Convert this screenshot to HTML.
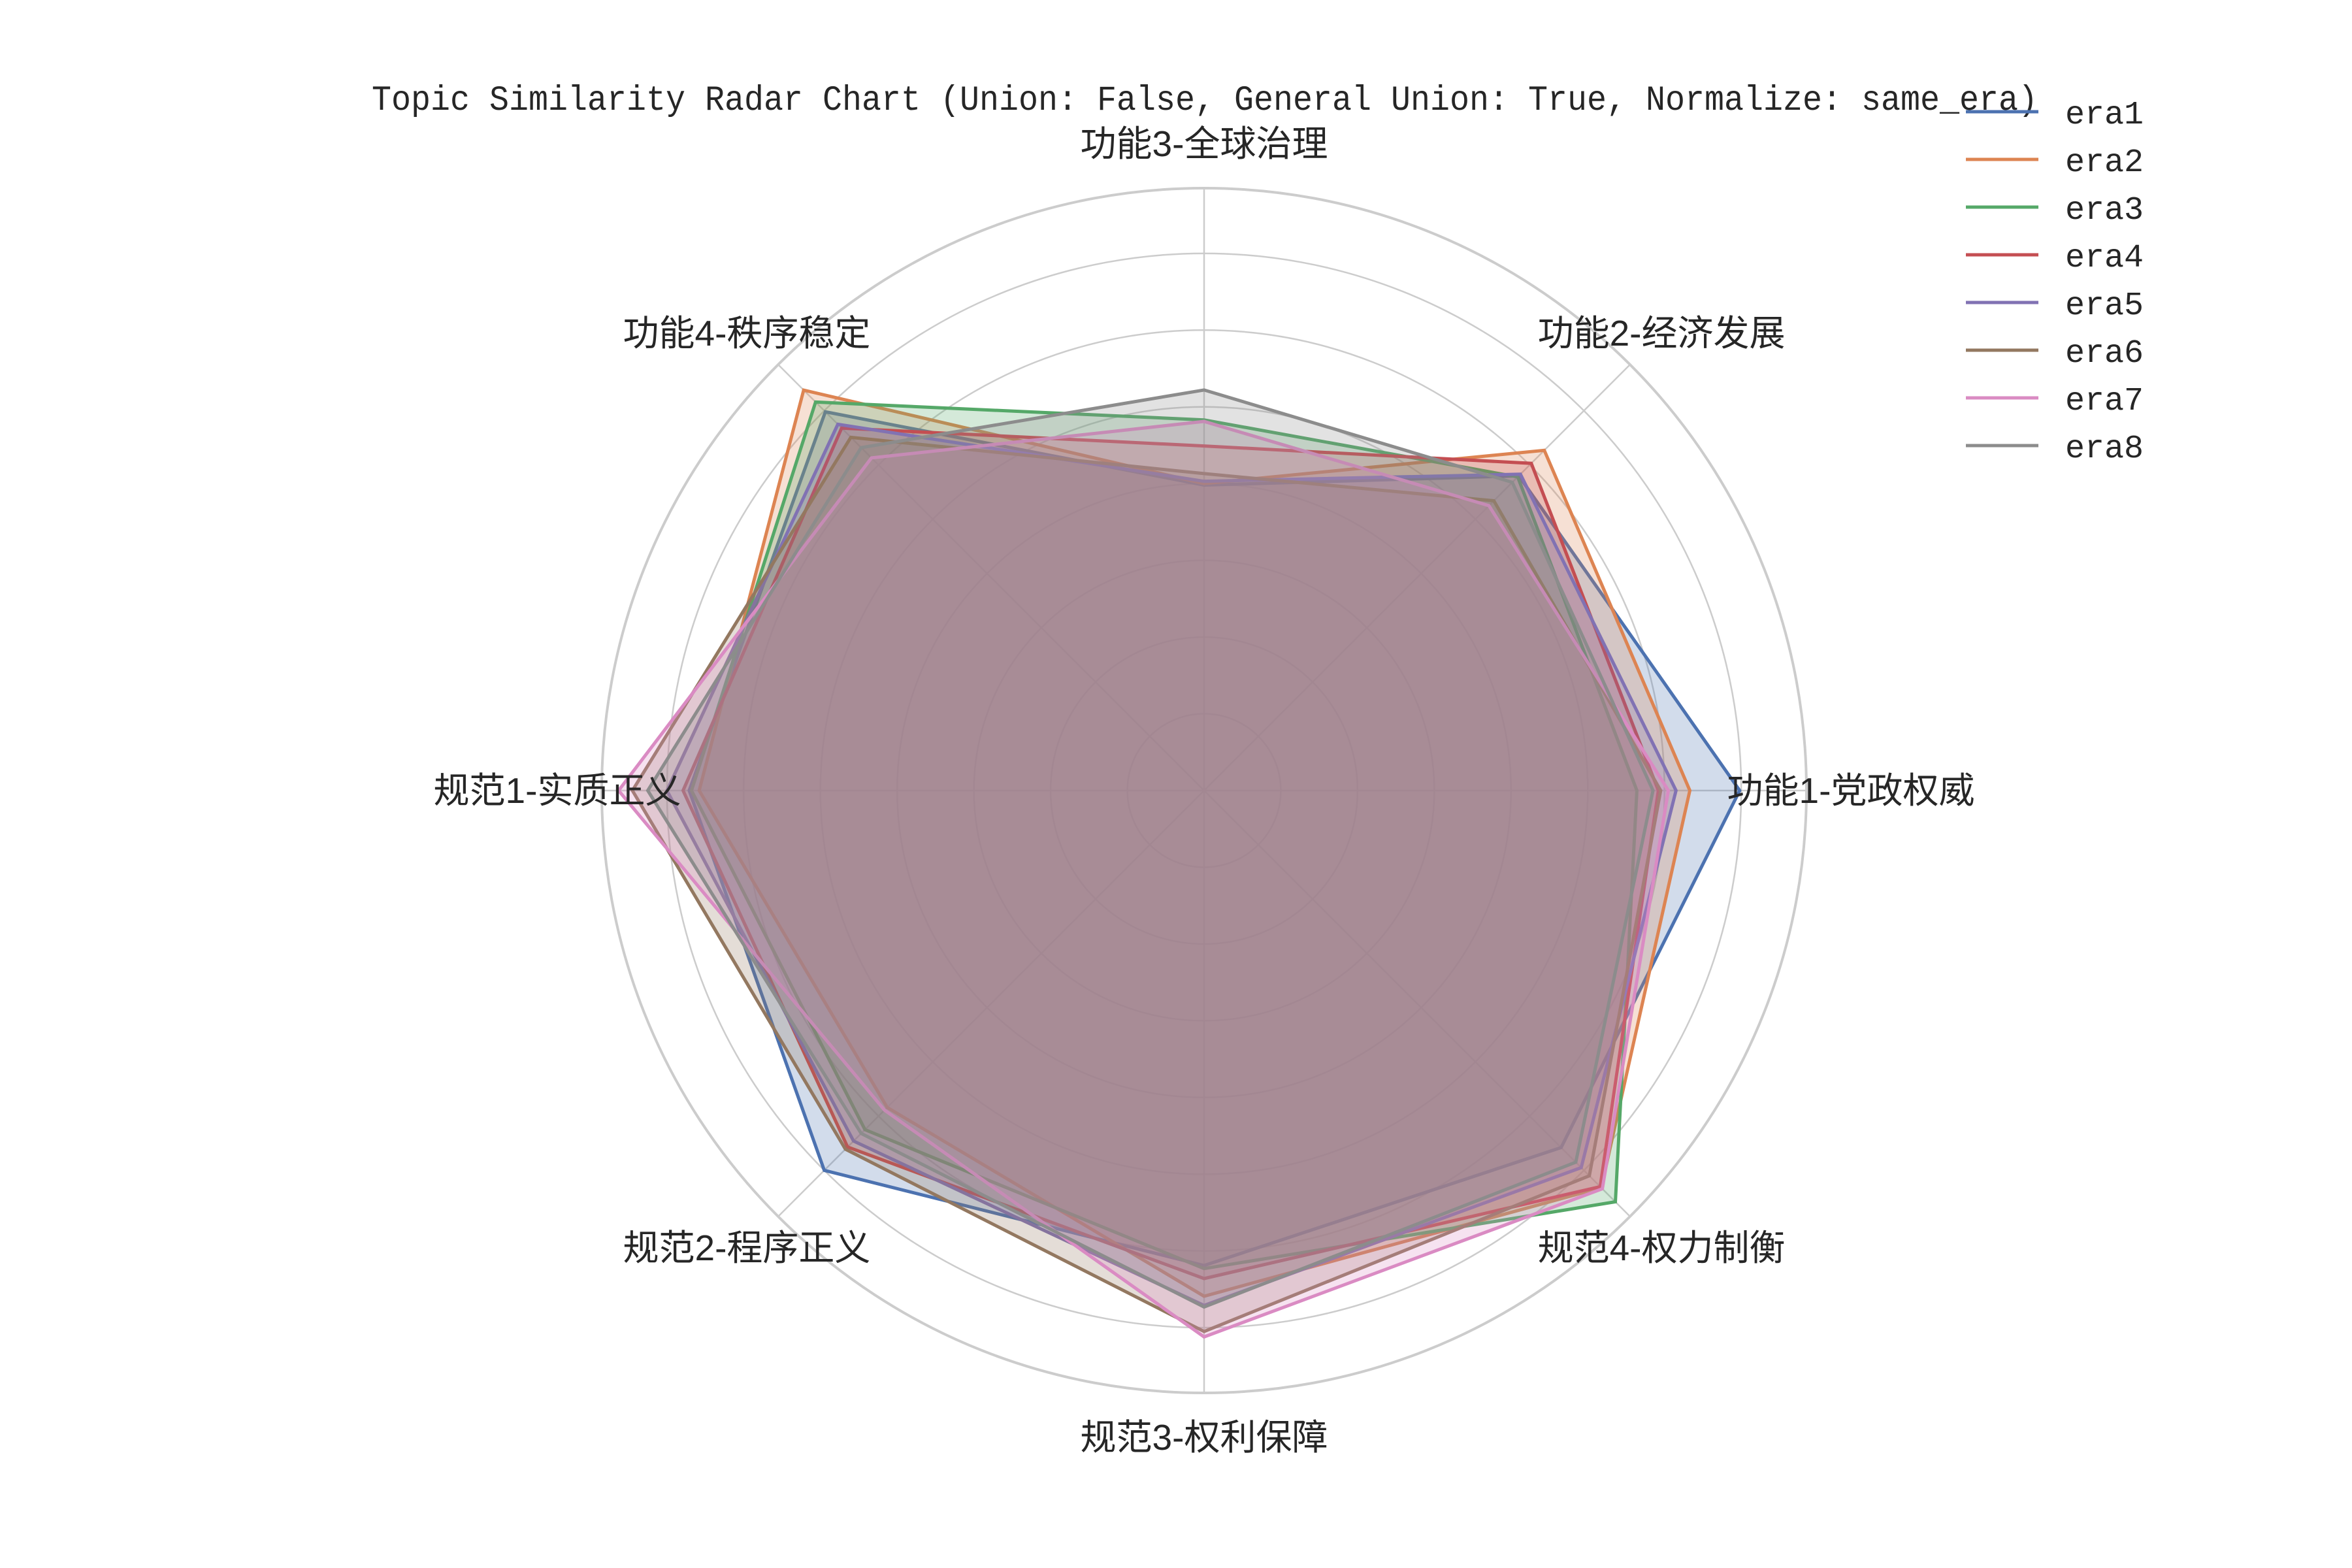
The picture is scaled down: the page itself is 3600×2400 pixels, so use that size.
<!DOCTYPE html>
<html><head><meta charset="utf-8">
<style>
html,body{margin:0;padding:0;background:#fff;}
svg{display:block;}
text{font-family:"Liberation Sans","WenQuanYi Zen Hei","Noto Sans CJK SC",sans-serif;fill:#262626;}
</style></head>
<body>
<svg id="chart" width="3600" height="2400" viewBox="0 0 3600 2400" xmlns="http://www.w3.org/2000/svg">
<text x="1844" y="168" text-anchor="middle" font-size="54" textLength="2550" lengthAdjust="spacingAndGlyphs" style="font-family:'WenQuanYi Zen Hei','Liberation Mono',monospace">Topic Similarity Radar Chart (Union: False, General Union: True, Normalize: same_era)</text>
<g id="grid"></g>
<g id="series"></g>
<g id="labels"></g>
<g id="legend"></g>
</svg>
<script>
const categories = ["功能1-党政权威","功能2-经济发展","功能3-全球治理","功能4-秩序稳定","规范1-实质正义","规范2-程序正义","规范3-权利保障","规范4-权力制衡"];
const seriesNames = ["era1","era2","era3","era4","era5","era6","era7","era8"];
const era1 = [0.698,0.580,0.398,0.698,0.671,0.700,0.619,0.658];
const era2 = [0.633,0.627,0.400,0.738,0.658,0.584,0.659,0.732];
const era3 = [0.564,0.578,0.483,0.716,0.668,0.625,0.623,0.758];
const era4 = [0.592,0.603,0.449,0.668,0.679,0.657,0.636,0.730];
const era5 = [0.615,0.583,0.403,0.675,0.700,0.646,0.671,0.695];
const era6 = [0.595,0.534,0.413,0.651,0.745,0.661,0.705,0.710];
const era7 = [0.605,0.525,0.481,0.613,0.763,0.589,0.712,0.734];
const era8 = [0.585,0.568,0.522,0.632,0.725,0.632,0.673,0.685];
const seriesValues = [era1,era2,era3,era4,era5,era6,era7,era8];
const ringTicks = [0.1,0.2,0.3,0.4,0.5,0.6,0.7];
const colors = ["#4C72B0","#DD8452","#55A868","#C44E52","#8172B3","#937860","#DA8BC3","#8C8C8C"];

const NS="http://www.w3.org/2000/svg";
const cx=1843, cy=1210, R=922, rmax=0.785;
function rScale(v){return v/rmax*R;}
function ang(i){return i*2*Math.PI/categories.length;}
function pt(i,v){const a=ang(i),r=rScale(v);return [cx+r*Math.cos(a), cy-r*Math.sin(a)];}
function mk(tag,attrs,parent){const e=document.createElementNS(NS,tag);for(const k in attrs)e.setAttribute(k,attrs[k]);parent.appendChild(e);return e;}

const grid=document.getElementById('grid');
ringTicks.forEach((t,k)=>{
  const c=mk('circle',{cx:cx,cy:cy,r:rScale(t),fill:'none',stroke:'#cccccc','stroke-width':2.5},grid);
  
  
});
categories.forEach((c,i)=>{
  const p=pt(i,rmax);
  const l=mk('line',{x1:cx,y1:cy,x2:p[0],y2:p[1],stroke:'#cccccc','stroke-width':2.5},grid);
  
  
});
const outer=mk('circle',{cx:cx,cy:cy,r:R,fill:'none',stroke:'#cccccc','stroke-width':4},grid);



const sg=document.getElementById('series');
seriesValues.forEach((vals,s)=>{
  const pts=vals.map((v,i)=>pt(i,v).join(',')).join(' ');
  const poly=mk('polygon',{points:pts,fill:colors[s],'fill-opacity':0.25,stroke:colors[s],'stroke-width':5,'stroke-linejoin':'miter'},sg);
  
  
});

const lg=document.getElementById('labels');
categories.forEach((c,i)=>{
  const a=ang(i), r=990;
  const x=cx+r*Math.cos(a), y=cy-r*Math.sin(a);
  const t=mk('text',{x:x,y:y+19,'text-anchor':'middle','font-size':55},lg);
  t.textContent=c;
  
  
});

const leg=document.getElementById('legend');
seriesNames.forEach((n,s)=>{
  const y=171+s*73;
  const l=mk('line',{x1:3009,y1:y,x2:3120,y2:y,stroke:colors[s],'stroke-width':5},leg);
  
  
  const t=mk('text',{x:3161,y:y+18,'font-size':50,style:"font-family:'WenQuanYi Zen Hei','Liberation Mono',monospace"},leg);
  t.textContent=n;
  
  
});
</script>
</body></html>
